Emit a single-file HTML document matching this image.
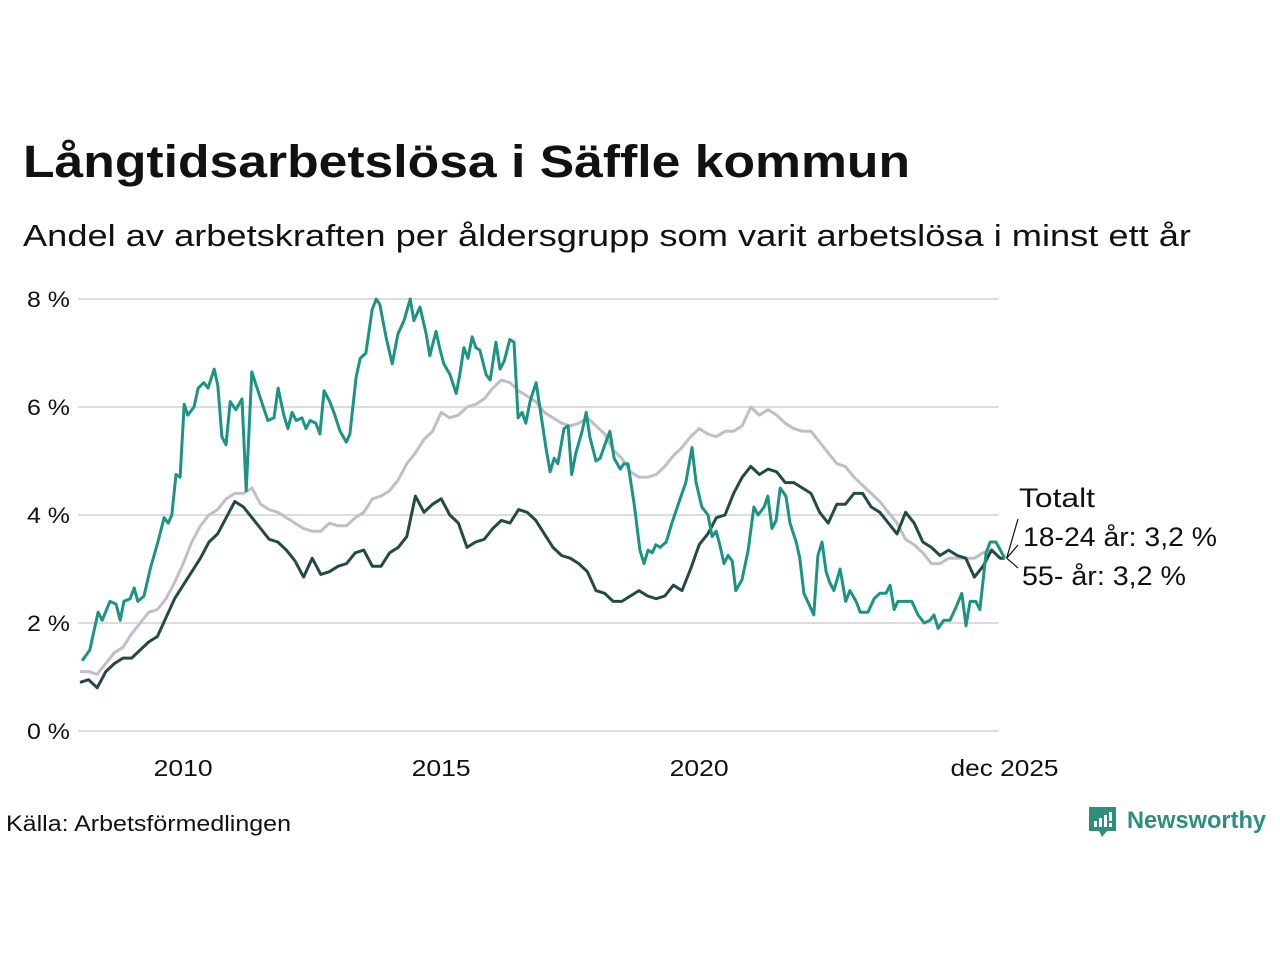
<!DOCTYPE html>
<html><head><meta charset="utf-8"><style>
html,body{margin:0;padding:0;background:#fff;width:1280px;height:960px;overflow:hidden}
svg{display:block;font-family:"Liberation Sans","DejaVu Sans",sans-serif}
</style></head><body>
<svg id="chart" width="1280" height="960">
<text x="23" y="177" font-size="45" font-weight="bold" fill="#111" textLength="887" lengthAdjust="spacingAndGlyphs">Långtidsarbetslösa i Säffle kommun</text>
<text x="23" y="246" font-size="31" fill="#111" textLength="1168" lengthAdjust="spacingAndGlyphs">Andel av arbetskraften per åldersgrupp som varit arbetslösa i minst ett år</text>
<g id="grid"></g>
<g id="yticks"></g>
<g id="xticks"></g>
<g id="series"></g>
<g id="labels"></g>
<text x="6" y="831" font-size="22" fill="#111" textLength="285" lengthAdjust="spacingAndGlyphs">Källa: Arbetsförmedlingen</text>
<g>
<path d="M1089 807h27v24h-9l-5 6l-3-6h-10z" fill="#2d8f80"/>
<rect x="1094" y="821" width="3" height="6" fill="#fff"/><rect x="1099" y="818" width="3" height="9" fill="#fff"/><rect x="1104" y="815" width="3" height="12" fill="#fff"/><rect x="1109" y="812" width="3" height="9" fill="#fff"/><rect x="1109" y="823" width="3" height="4" fill="#fff"/>
<text x="1127" y="828" font-size="24" font-weight="bold" fill="#2d8f80" textLength="139" lengthAdjust="spacingAndGlyphs">Newsworthy</text>
</g>
</svg>
<script>
const yTicks = [0, 2, 4, 6, 8];
const xTickYears = [2010, 2015, 2020, 2025.917];
const xTickLabels = ["2010", "2015", "2020", "dec 2025"];
// 18-24 år: dates as years since Jan 2008
const teenDates = [.04,.19,.35,.43,.58,.70,.78,.85,.97,1.05,1.12,1.24,1.36,1.51,1.63,1.71,1.78,1.86,1.94,2.02,2.09,2.21,2.29,2.40,2.48,2.60,2.67,2.75,2.83,2.91,3.02,3.14,3.22,3.33,3.45,3.57,3.64,3.76,3.84,3.95,4.03,4.11,4.19,4.30,4.38,4.46,4.57,4.65,4.73,4.84,4.92,5.04,5.16,5.23,5.35,5.43,5.54,5.66,5.74,5.81,5.93,6.05,6.16,6.28,6.40,6.47,6.59,6.71,6.78,6.90,6.98,7.05,7.17,7.29,7.36,7.44,7.52,7.60,7.67,7.75,7.87,7.95,8.06,8.14,8.22,8.33,8.41,8.49,8.57,8.64,8.72,8.84,8.91,9.03,9.11,9.19,9.26,9.38,9.46,9.53,9.61,9.73,9.81,9.88,10.00,10.08,10.19,10.27,10.35,10.47,10.54,10.62,10.74,10.85,10.93,11.01,11.09,11.16,11.24,11.36,11.47,11.63,11.74,11.86,11.94,12.05,12.17,12.25,12.33,12.40,12.48,12.56,12.64,12.71,12.83,12.95,13.06,13.14,13.26,13.33,13.41,13.49,13.57,13.68,13.76,13.88,13.95,14.03,14.15,14.22,14.30,14.38,14.46,14.53,14.61,14.73,14.84,14.92,15.04,15.12,15.27,15.39,15.50,15.62,15.70,15.78,15.85,16.01,16.12,16.24,16.36,16.47,16.55,16.63,16.74,16.86,16.98,17.09,17.17,17.25,17.36,17.44,17.56,17.64,17.75,17.92];
const teenValues = [1.3,1.5,2.2,2.05,2.4,2.35,2.05,2.4,2.45,2.65,2.4,2.5,3.0,3.5,3.95,3.85,4.0,4.75,4.7,6.05,5.85,6.0,6.35,6.45,6.35,6.7,6.4,5.45,5.3,6.1,5.95,6.15,4.45,6.65,6.3,5.95,5.75,5.8,6.35,5.85,5.6,5.9,5.75,5.8,5.6,5.75,5.7,5.5,6.3,6.1,5.9,5.55,5.35,5.5,6.55,6.9,7.0,7.8,8.0,7.9,7.3,6.8,7.35,7.6,8.0,7.6,7.85,7.35,6.95,7.4,7.05,6.8,6.6,6.25,6.6,7.1,6.9,7.3,7.1,7.05,6.6,6.5,7.2,6.7,6.85,7.25,7.2,5.8,5.9,5.7,6.1,6.45,6.0,5.25,4.8,5.05,4.95,5.6,5.65,4.75,5.15,5.55,5.9,5.45,5.0,5.05,5.35,5.55,5.05,4.85,4.95,4.95,4.2,3.35,3.1,3.35,3.3,3.45,3.4,3.5,3.85,4.3,4.6,5.25,4.6,4.15,4.0,3.6,3.7,3.45,3.1,3.25,3.15,2.6,2.8,3.35,4.15,4.0,4.15,4.35,3.75,3.9,4.5,4.35,3.85,3.5,3.2,2.55,2.3,2.15,3.25,3.5,2.95,2.75,2.6,3.0,2.4,2.6,2.4,2.2,2.2,2.45,2.55,2.55,2.7,2.25,2.4,2.4,2.4,2.15,2.0,2.05,2.15,1.9,2.05,2.05,2.3,2.55,1.95,2.4,2.4,2.25,3.3,3.5,3.5,3.2];
// 55- år and Totalt: bi-monthly samples (month index since Jan 2008)
const seniorValues = [0.9,0.95,0.8,1.1,1.25,1.35,1.35,1.5,1.65,1.75,2.1,2.45,2.7,2.95,3.2,3.5,3.65,3.95,4.25,4.15,3.95,3.75,3.55,3.5,3.35,3.15,2.85,3.2,2.9,2.95,3.05,3.1,3.3,3.35,3.05,3.05,3.3,3.4,3.6,4.35,4.05,4.2,4.3,4.0,3.85,3.4,3.5,3.55,3.75,3.9,3.85,4.1,4.05,3.9,3.65,3.4,3.25,3.2,3.1,2.95,2.6,2.55,2.4,2.4,2.5,2.6,2.5,2.45,2.5,2.7,2.6,3.0,3.45,3.65,3.95,4.0,4.4,4.7,4.9,4.75,4.85,4.8,4.6,4.6,4.5,4.4,4.05,3.85,4.2,4.2,4.4,4.4,4.15,4.05,3.85,3.65,4.05,3.85,3.5,3.4,3.25,3.35,3.25,3.2,2.85,3.05,3.35,3.2,3.2];
const totalValues = [1.1,1.1,1.05,1.25,1.45,1.55,1.8,2.0,2.2,2.25,2.45,2.75,3.1,3.5,3.8,4.0,4.1,4.3,4.4,4.4,4.5,4.2,4.1,4.05,3.95,3.85,3.75,3.7,3.7,3.85,3.8,3.8,3.95,4.05,4.3,4.35,4.45,4.65,4.95,5.15,5.4,5.55,5.9,5.8,5.85,6.0,6.05,6.15,6.35,6.5,6.45,6.3,6.2,6.1,5.9,5.8,5.7,5.65,5.7,5.8,5.65,5.5,5.2,5.05,4.8,4.7,4.7,4.75,4.9,5.1,5.25,5.45,5.6,5.5,5.45,5.55,5.55,5.65,6.0,5.85,5.95,5.85,5.7,5.6,5.55,5.55,5.35,5.15,4.95,4.9,4.7,4.55,4.4,4.25,4.05,3.85,3.55,3.45,3.3,3.1,3.1,3.2,3.2,3.2,3.2,3.3,3.35,3.2,3.2];

const NS = "http://www.w3.org/2000/svg";
const x0 = 80, yearPx = 51.6, y0 = 731, pctPx = 54;
const xScale = t => x0 + t * yearPx;
const xYear = yr => xScale(yr - 2008);
const yScale = v => y0 - v * pctPx;
function mk(tag, attrs, parent){const e=document.createElementNS(NS,tag);for(const k in attrs)e.setAttribute(k,attrs[k]);parent.appendChild(e);return e;}

const grid = document.getElementById('grid'), yt = document.getElementById('yticks'), xt = document.getElementById('xticks');
yTicks.forEach(v=>{
  const l = mk('line',{x1:78,x2:999,y1:yScale(v),y2:yScale(v),stroke:'#dcdcdc','stroke-width':2},grid);
  
  
  const t = mk('text',{x:70,y:yScale(v)+8,'font-size':22,'text-anchor':'end',fill:'#111',textLength:43,lengthAdjust:'spacingAndGlyphs'},yt);
  t.textContent = v + ' %';
  
  
});
xTickYears.forEach((yr,i)=>{
  const w = xTickLabels[i].length > 4 ? 108 : 59;
  const t = mk('text',{x:xYear(yr),y:776,'font-size':23,'text-anchor':'middle',fill:'#111',textLength:w,lengthAdjust:'spacingAndGlyphs'},xt);
  t.textContent = xTickLabels[i];
  
  
});
const sg = document.getElementById('series');
function line(dates, vals, color, name){
  const d = vals.map((v,i)=>(i?'L':'M')+xScale(dates[i]).toFixed(1)+' '+yScale(v).toFixed(1)).join('');
  const p = mk('path',{d:d,fill:'none',stroke:color,'stroke-width':3,'stroke-linejoin':'round'},sg);
  
  
}
const biDates = totalValues.map((v,i)=> (i < totalValues.length-1 ? i*2 : 215)/12);
line(biDates, totalValues, '#c2bdcc', 'line-totalt');
line(biDates.slice(0,seniorValues.length), seniorValues, '#234b43', 'line-55-ar');
line(teenDates, teenValues, '#1b9484', 'line-18-24-ar');

const lg = document.getElementById('labels');
const lastX = xScale(17.92), lastY = yScale(3.2);
[[1018,519],[1018,545],[1018,568]].forEach((p,i)=>{
  const l = mk('line',{x1:lastX+2,y1:lastY,x2:p[0],y2:p[1],stroke:'#111','stroke-width':1.2},lg);
  
  
});
[['Totalt',1019,507,76],['18-24 år: 3,2 %',1023,546,194],['55- år: 3,2 %',1022,585,164]].forEach(a=>{
  const t = mk('text',{x:a[1],y:a[2],'font-size':27,fill:'#111',textLength:a[3],lengthAdjust:'spacingAndGlyphs'},lg);
  t.textContent = a[0];
  
  
});
</script>
</body></html>
